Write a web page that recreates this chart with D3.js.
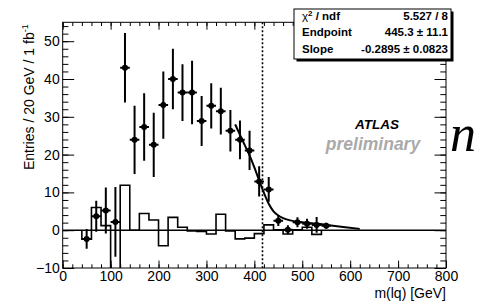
<!DOCTYPE html>
<html>
<head>
<meta charset="utf-8">
<script src="https://cdn.jsdelivr.net/npm/d3@7"></script>
<style>
  body { margin: 0; background: #fff; }
  svg text { font-family: "Liberation Sans", Arial, Helvetica, sans-serif; }
</style>
</head>
<body>
<svg id="chart"></svg>
<script>
"use strict";

const CHART_WIDTH = 477;
const CHART_HEIGHT = 306;

// background-subtracted histogram, 20 GeV bins (low edges)
const histLow = [40, 60, 80, 100, 120, 140, 160, 180, 200, 220, 240, 260, 280, 300, 320, 340, 360, 380, 400, 420, 440, 460, 480, 500, 520];
const histVal = [-2.4, 6.0, 1.2, -11, 11.9, 0, 4.4, 2.7, -4.1, 3.4, 0.8, -0.2, -0.3, -1.0, 4.2, -0.2, -2.3, -2.1, -0.9, 1.4, 0.1, -1.0, 0.1, 0.8, -1.1];

// data points (bin centres)
const ptX   = [50, 70, 90, 110, 130, 150, 170, 190, 210, 230, 250, 270, 290, 310, 330, 350, 370, 390, 410, 430, 450, 470, 490, 510, 530, 550];
const ptY   = [-2.3, 3.7, 5.2, 2.2, 43.0, 23.9, 27.3, 22.6, 33.1, 40.0, 36.4, 36.4, 28.9, 32.9, 31.5, 26.3, 23.9, 21.1, 12.9, 10.8, 2.5, 0.1, 2.1, 1.7, 1.4, 1.2];
const ptErr = [2.6, 4.1, 6.1, 9.2, 9.2, 9.0, 8.9, 8.5, 8.9, 8.0, 7.5, 8.4, 6.6, 6.0, 6.2, 5.5, 5.1, 5.2, 4.0, 3.3, 1.4, 1.2, 1.3, 1.3, 2.1, 0.8];

// fit curve
const fitX = [360, 370, 380, 390, 400, 410, 420, 430, 440, 450, 460, 475, 490, 510, 530, 560, 590, 620];
const fitY = [28.0, 25.2, 22.5, 19.8, 16.6, 13.2, 9.9, 7.0, 5.0, 3.9, 3.2, 2.6, 2.2, 1.95, 1.75, 1.25, 0.8, 0.35];

const cutX = 417;

const xMajor = [0, 100, 200, 300, 400, 500, 600, 700, 800];
const yMajor = [-10, 0, 10, 20, 30, 40, 50];

const statLabels = ['χ2 / ndf', 'Endpoint', 'Slope'];
const statValues = ['5.527 / 8', '445.3 ± 11.1', '-0.2895 ± 0.0823'];

const svg = d3.select('#chart')
    .attr('width', CHART_WIDTH)
    .attr('height', CHART_HEIGHT);

const x = d3.scaleLinear().domain([0, 800]).range([62.7, 446]);
const y = d3.scaleLinear().domain([-10, 55]).range([268, 22.3]);

const x0 = x.range()[0], x1 = x.range()[1];
const yb = y.range()[0], yt = y.range()[1];

svg.append('defs').append('clipPath').attr('id', 'clip')
    .append('rect')
    .attr('x', x0).attr('y', yt)
    .attr('width', x1 - x0).attr('height', yb - yt);

const plot = svg.append('g').attr('clip-path', 'url(#clip)');

// axes ticks (ROOT style, inside)
function tickAxis(axis, transform){
	const g = svg.append('g').attr('transform', transform).call(axis);
	g.select('.domain').remove();
	g.selectAll('line').attr('stroke', '#000').attr('stroke-width', 1);
	g.selectAll('text').attr('font-size', 14).attr('fill', '#000');
	return g;
}

tickAxis(d3.axisBottom(x).tickValues(xMajor).tickSizeInner(-7.4).tickSizeOuter(0).tickPadding(3),
	`translate(0,${yb})`);
tickAxis(d3.axisBottom(x).tickValues(d3.range(0, 801, 20)).tickSize(-3.7).tickFormat(''),
	`translate(0,${yb})`);
tickAxis(d3.axisTop(x).tickValues(xMajor).tickSize(-7.4).tickFormat(''),
	`translate(0,${yt})`);
tickAxis(d3.axisTop(x).tickValues(d3.range(0, 801, 20)).tickSize(-3.7).tickFormat(''),
	`translate(0,${yt})`);

tickAxis(d3.axisLeft(y).tickValues(yMajor).tickSizeInner(-11.5).tickSizeOuter(0).tickPadding(3),
	`translate(${x0},0)`);
tickAxis(d3.axisLeft(y).tickValues(d3.range(-10, 55.1, 2)).tickSize(-5.7).tickFormat(''),
	`translate(${x0},0)`);
tickAxis(d3.axisRight(y).tickValues(yMajor).tickSize(-11.5).tickFormat(''),
	`translate(${x1},0)`);
tickAxis(d3.axisRight(y).tickValues(d3.range(-10, 55.1, 2)).tickSize(-5.7).tickFormat(''),
	`translate(${x1},0)`);

// frame
svg.append('rect')
    .attr('x', x0).attr('y', yt)
    .attr('width', x1 - x0).attr('height', yb - yt)
    .attr('fill', 'none').attr('stroke', '#000').attr('stroke-width', 1);

// zero line
plot.append('line')
    .attr('x1', x(0)).attr('x2', x(800))
    .attr('y1', y(0)).attr('y2', y(0))
    .attr('stroke', '#000').attr('stroke-width', 1.5);

// histogram outline
const steps = [[histLow[0], 0]];
histLow.forEach((lo, i) => {
	steps.push([lo, histVal[i]]);
	steps.push([lo + 20, histVal[i]]);
});
steps.push([histLow[histLow.length - 1] + 20, 0]);

plot.append('path')
    .attr('d', d3.line().x(d => x(d[0])).y(d => y(d[1]))(steps))
    .attr('fill', 'none')
    .attr('stroke', '#000')
    .attr('stroke-width', 1.6);

// dotted cut line
plot.append('line')
    .attr('x1', x(cutX)).attr('x2', x(cutX))
    .attr('y1', yt).attr('y2', yb)
    .attr('stroke', '#000').attr('stroke-width', 1.6)
    .attr('stroke-dasharray', '2,2');

// fit curve
plot.append('path')
    .attr('d', d3.line().curve(d3.curveMonotoneX)
        .x((d, i) => x(fitX[i])).y(d => y(d))(fitY))
    .attr('fill', 'none')
    .attr('stroke', '#000')
    .attr('stroke-width', 2);

// data points
const pts = ptX.map((v, i) => ({x: v, y: ptY[i], e: ptErr[i]}));
const gPts = plot.append('g');
gPts.selectAll('line.ey')
    .data(pts)
    .join('line')
    .attr('class', 'ey')
    .attr('x1', d => x(d.x)).attr('x2', d => x(d.x))
    .attr('y1', d => y(d.y - d.e)).attr('y2', d => y(d.y + d.e))
    .attr('stroke', '#000').attr('stroke-width', 2);
gPts.selectAll('line.ex')
    .data(pts)
    .join('line')
    .attr('class', 'ex')
    .attr('x1', d => x(d.x - 10)).attr('x2', d => x(d.x + 10))
    .attr('y1', d => y(d.y)).attr('y2', d => y(d.y))
    .attr('stroke', '#000').attr('stroke-width', 2);
gPts.selectAll('circle')
    .data(pts)
    .join('circle')
    .attr('cx', d => x(d.x)).attr('cy', d => y(d.y))
    .attr('r', 3)
    .attr('fill', '#000');

// axis titles
svg.append('text')
    .attr('x', x1).attr('y', 298)
    .attr('text-anchor', 'end')
    .attr('font-size', 14)
    .text('m(lq) [GeV]');

const yTitle = svg.append('text')
    .attr('transform', `translate(34,${yt + 2}) rotate(-90)`)
    .attr('text-anchor', 'end')
    .attr('font-size', 14);
yTitle.append('tspan').text('Entries / 20 GeV / 1 fb');
yTitle.append('tspan').attr('font-size', 9).attr('dy', -6).text('-1');

// ATLAS preliminary
svg.append('text')
    .attr('x', 377).attr('y', 129)
    .attr('text-anchor', 'middle')
    .attr('font-size', 13.5).attr('font-weight', 'bold').attr('font-style', 'italic')
    .text('ATLAS');
svg.append('text')
    .attr('x', 373).attr('y', 150)
    .attr('text-anchor', 'middle')
    .attr('font-size', 17.5).attr('font-weight', 'bold').attr('font-style', 'italic')
    .attr('fill', '#aaaaaa')
    .text('preliminary');

// stray glyph from the slide behind
svg.append('text')
    .attr('x', 450).attr('y', 151)
    .attr('font-size', 52).attr('font-style', 'italic')
    .style('font-family', '"Liberation Serif", "DejaVu Serif", serif')
    .text('n');

// stats box
const box = {x: 294, y: 9, w: 157, h: 50};
svg.append('rect')
    .attr('x', box.x + 2.5).attr('y', box.y + 2.5)
    .attr('width', box.w).attr('height', box.h)
    .attr('fill', '#000');
svg.append('rect')
    .attr('x', box.x).attr('y', box.y)
    .attr('width', box.w).attr('height', box.h)
    .attr('fill', '#fff').attr('stroke', '#000').attr('stroke-width', 1);

const rowY = [19.5, 36, 52.5];
statLabels.forEach((s, i) => {
	const t = svg.append('text')
	    .attr('x', box.x + 8).attr('y', rowY[i])
	    .attr('font-size', 11.5).attr('font-weight', 'bold');
	if (i === 0) {
		t.append('tspan').attr('font-weight', 'normal').text('χ');
		t.append('tspan').attr('font-size', 8).attr('dy', -4).text('2');
		t.append('tspan').attr('dy', 4).text(' / ndf');
	} else {
		t.text(s);
	}
	svg.append('text')
	    .attr('x', box.x + box.w - 3).attr('y', rowY[i])
	    .attr('text-anchor', 'end')
	    .attr('font-size', 11.5).attr('font-weight', 'bold')
	    .text(statValues[i]);
});
</script>
</body>
</html>
